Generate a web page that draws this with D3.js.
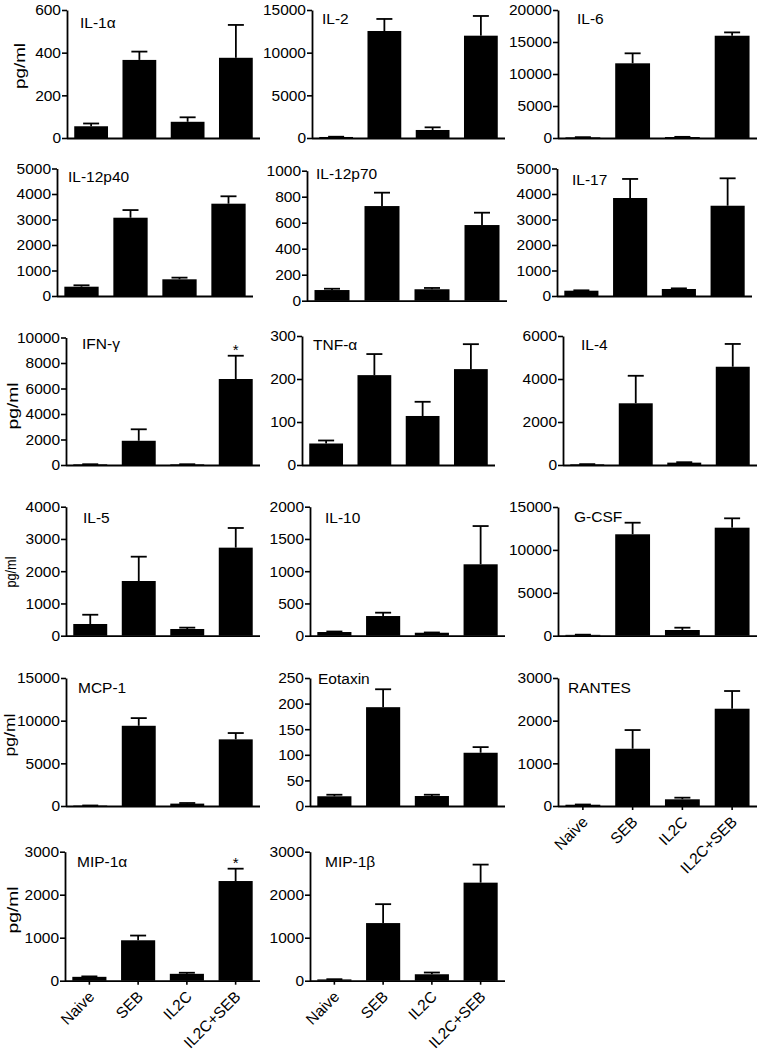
<!DOCTYPE html>
<html><head><meta charset="utf-8">
<script src="https://cdn.jsdelivr.net/npm/d3@7"></script>
<style>body{margin:0;background:#fff} text{font-family:Arial,"Liberation Sans",sans-serif;fill:#000}</style>
</head><body><svg id="c" width="759" height="1050"></svg>
<script>
const groups = ["Naive", "SEB", "IL2C", "IL2C+SEB"];
const cytokines = ["IL-1α","IL-2","IL-6","IL-12p40","IL-12p70","IL-17","IFN-γ","TNF-α","IL-4","IL-5","IL-10","G-CSF","MCP-1","Eotaxin","RANTES","MIP-1α","MIP-1β"];
const meanValues = [
  [55, 366, 76, 376],
  [120, 12540, 940, 11990],
  [100, 11670, 150, 15980],
  [365, 3070, 655, 3620],
  [82, 728, 88, 582],
  [208, 3843, 275, 3540],
  [50, 1900, 50, 6745],
  [50, 209, 114, 223],
  [30, 2870, 110, 4570],
  [363, 1696, 208, 2730],
  [57, 305, 46, 1107],
  [100, 11820, 665, 12590],
  [50, 9400, 280, 7810],
  [19, 193, 19.5, 104],
  [30, 1342, 157, 2280],
  [90, 940, 160, 2318],
  [30, 1340, 150, 2280]
];
const errorValues = [
  [13, 39, 21, 154],
  [30, 1410, 310, 2310],
  [30, 1560, 30, 520],
  [55, 300, 65, 290],
  [10, 103, 10, 95],
  [15, 747, 25, 1075],
  [10, 900, 10, 1825],
  [7, 49, 33, 58],
  [10, 1280, 20, 1060],
  [287, 754, 42, 610],
  [8, 52, 4, 593],
  [20, 1350, 270, 1090],
  [10, 900, 70, 740],
  [3, 35, 2.5, 11],
  [5, 438, 38, 415],
  [10, 110, 25, 287],
  [5, 440, 40, 420]
];
const yTickValues = [
  [0, 200, 400, 600],
  [0, 5000, 10000, 15000],
  [0, 5000, 10000, 15000, 20000],
  [0, 1000, 2000, 3000, 4000, 5000],
  [0, 200, 400, 600, 800, 1000],
  [0, 1000, 2000, 3000, 4000, 5000],
  [0, 2000, 4000, 6000, 8000, 10000],
  [0, 100, 200, 300],
  [0, 2000, 4000, 6000],
  [0, 1000, 2000, 3000, 4000],
  [0, 500, 1000, 1500, 2000],
  [0, 5000, 10000, 15000],
  [0, 5000, 10000, 15000],
  [0, 50, 100, 150, 200, 250],
  [0, 1000, 2000, 3000],
  [0, 1000, 2000, 3000],
  [0, 1000, 2000, 3000]
];
const significantBars = [[6, 3], [15, 3]];
const yAxisTitle = "pg/ml";

// ---- layout (positions only) ----
// [axisX, topY, zeroY, endX, titleX, titleY]
const layout = [
  [67, 10, 138, 260, 80, 28],
  [312, 10, 138, 505, 322, 24],
  [558, 10, 138, 757, 577, 24],
  [57, 168.5, 296, 253, 68, 182],
  [307, 170.7, 300.7, 507, 316, 179],
  [557, 168.5, 296, 752, 572, 185],
  [66, 337.5, 465, 260, 82, 349],
  [302, 336, 465, 495, 313, 350],
  [563, 336, 465, 757, 581, 350],
  [66, 506.7, 635.7, 260, 83, 523],
  [310, 506.7, 635.7, 505, 325, 523],
  [558, 507, 635.7, 757, 574, 522],
  [66, 678, 806, 260, 78, 693],
  [310, 678, 806, 505, 318, 684],
  [558, 678, 806, 757, 568, 693],
  [65, 851.7, 980.7, 260, 77, 867],
  [310, 851.7, 980.7, 505, 325, 867]
];
// [panel, centerX, centerY, length]
const yTitleLayout = [[0, 21, 66, 46], [6, 14, 406, 47], [9, 12.5, 572, 31], [12, 11, 735, 43], [15, 14, 910, 47]];
const xLabelPanels = [14, 15, 16];

const svg = d3.select("#c");
const FS = 15.5;
const FF = "Arial, 'Liberation Sans', sans-serif";

cytokines.forEach((name, i) => {
  const [ax, top, zero, endX, tx, ty] = layout[i];
  const ticks = yTickValues[i];
  const y = d3.scaleLinear().domain([0, d3.max(ticks)]).range([zero, top]);
  const x = d3.scaleBand().domain(groups).range([ax, endX]).paddingInner(0.3).paddingOuter(0.15);
  const g = svg.append("g");

  g.selectAll("rect.bar").data(groups).enter().append("rect")
    .attr("x", d => x(d)).attr("width", x.bandwidth())
    .attr("y", (d, j) => y(meanValues[i][j]))
    .attr("height", (d, j) => zero - y(meanValues[i][j]))
    .attr("fill", "#000");

  groups.forEach((gr, j) => {
    const cx = x(gr) + x.bandwidth() / 2;
    const y0 = y(meanValues[i][j]), y1 = y(meanValues[i][j] + errorValues[i][j]);
    g.append("line").attr("x1", cx).attr("x2", cx).attr("y1", y0).attr("y2", y1)
      .attr("stroke", "#000").attr("stroke-width", 1.8);
    g.append("line").attr("x1", cx - 8).attr("x2", cx + 8).attr("y1", y1).attr("y2", y1)
      .attr("stroke", "#000").attr("stroke-width", 1.8);
  });

  const yAxis = d3.axisLeft(y).tickValues(ticks).tickFormat(d3.format("d")).tickSize(5).tickSizeOuter(0).tickPadding(1);
  const ya = g.append("g").attr("transform", `translate(${ax},0)`).call(yAxis);
  ya.select(".domain").attr("stroke", "#000").attr("stroke-width", 1.8);
  ya.selectAll(".tick line").attr("stroke", "#000").attr("stroke-width", 1.6);
  ya.selectAll(".tick text").attr("font-size", FS).attr("font-family", FF).attr("fill", "#000");

  const showLabels = xLabelPanels.includes(i);
  const xAxis = d3.axisBottom(x).tickSize(showLabels ? 4 : 0).tickSizeOuter(0).tickFormat(showLabels ? (d => d) : "");
  const xa = g.append("g").attr("transform", `translate(0,${zero})`).call(xAxis);
  xa.select(".domain").attr("d", `M${ax},0.5H${endX}`).attr("stroke", "#000").attr("stroke-width", 1.8);
  xa.selectAll(".tick line").attr("stroke", "#000").attr("stroke-width", 1.6);
  if (showLabels) {
    xa.selectAll(".tick text")
      .attr("font-size", FS).attr("font-family", FF).attr("fill", "#000")
      .attr("text-anchor", "end").attr("x", 0).attr("y", 0).attr("dy", 0)
      .attr("transform", "translate(6,17) rotate(-45)");
  }

  g.append("text").attr("x", tx).attr("y", ty).attr("font-size", FS).text(name);

  significantBars.filter(s => s[0] === i).forEach(([, j]) => {
    const cx = x(groups[j]) + x.bandwidth() / 2;
    g.append("text").attr("x", cx).attr("y", y(meanValues[i][j] + errorValues[i][j]) - 1)
      .attr("text-anchor", "middle").attr("font-size", 15).text("*");
  });
});

yTitleLayout.forEach(([p, cx, cy, len]) => {
  svg.append("text")
    .attr("transform", `translate(${cx + 3.6},${cy}) rotate(-90)`)
    .attr("text-anchor", "middle").attr("font-size", 14)
    .attr("textLength", len).attr("lengthAdjust", "spacingAndGlyphs")
    .text(yAxisTitle);
});
</script></body></html>
